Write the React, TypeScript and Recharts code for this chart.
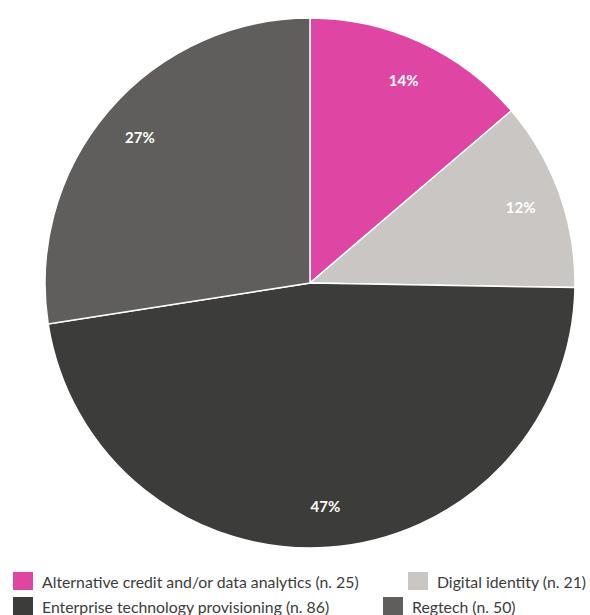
import { PieChart, Pie, Cell } from "recharts";

const categories = [
  "Alternative credit and/or data analytics",
  "Digital identity",
  "Enterprise technology provisioning",
  "Regtech",
];
const counts = [25, 21, 86, 50];
const colors = ["#DF45A3", "#C9C6C3", "#3C3C3B", "#5F5E5C"];

const total = counts.reduce((a, b) => a + b, 0);
const data = categories.map((name, i) => ({ name, value: counts[i] }));

const RAD = Math.PI / 180;

function renderLabel(props: any) {
  const { cx, cy, midAngle, outerRadius, value } = props;
  const r = outerRadius * 0.845;
  const x = cx + r * Math.cos(-midAngle * RAD);
  const y = cy + r * Math.sin(-midAngle * RAD);
  return (
    <text
      x={x}
      y={y}
      fill="#ffffff"
      fontSize={15}
      fontWeight={700}
      fontFamily="Lato, sans-serif"
      textAnchor="middle"
      dominantBaseline="central"
    >
      {Math.round((value / total) * 100)}%
    </text>
  );
}

// legend: two columns, row-major
const legendPos = [
  { left: 13, top: 572 },
  { left: 408, top: 572 },
  { left: 13, top: 597 },
  { left: 383, top: 597 },
];

export default function App() {
  return (
    <div style={{ position: "absolute", left: 0, top: 0, width: 590, height: 615, background: "#fff", overflow: "hidden", fontFamily: "Lato, sans-serif" }}>
      <PieChart width={590} height={560} margin={{ top: 0, right: 0, bottom: 0, left: 0 }}>
        <Pie
          data={data}
          dataKey="value"
          cx={310}
          cy={283}
          outerRadius={265}
          startAngle={90}
          endAngle={-270}
          stroke="#ffffff"
          strokeWidth={1.5}
          label={renderLabel}
          labelLine={false}
          isAnimationActive={false}
        >
          {data.map((d, i) => (
            <Cell key={d.name} fill={colors[i]} />
          ))}
        </Pie>
      </PieChart>
      {data.map((d, i) => (
        <div
          key={d.name}
          style={{ position: "absolute", left: legendPos[i].left, top: legendPos[i].top, height: 18, display: "flex", alignItems: "center", whiteSpace: "nowrap" }}
        >
          <span style={{ display: "inline-block", width: 20, height: 18, background: colors[i], marginRight: 9 }} />
          <span style={{ fontSize: 15.8, color: "#3C3C3B" }}>
            {d.name} (n. {d.value})
          </span>
        </div>
      ))}
    </div>
  );
}
